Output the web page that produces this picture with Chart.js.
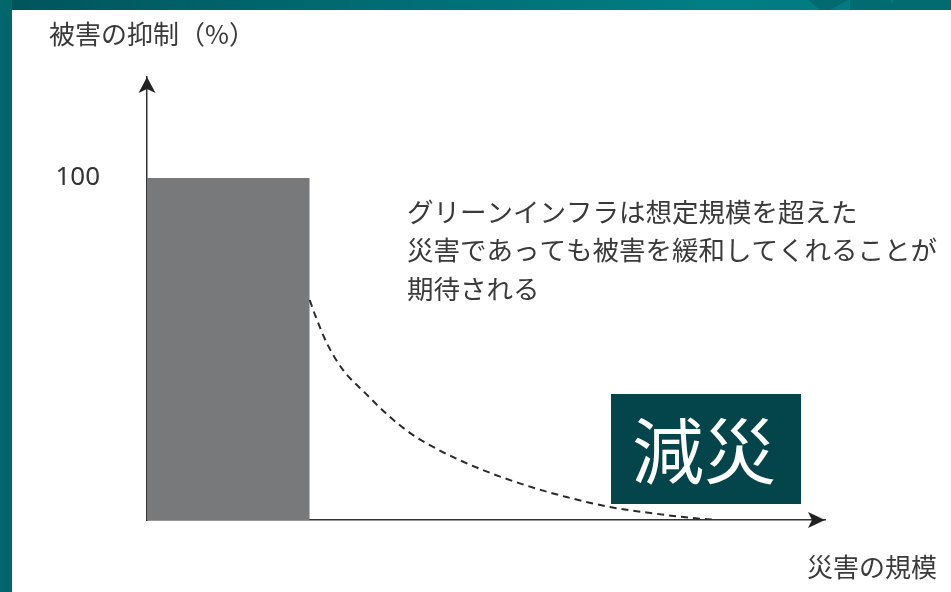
<!DOCTYPE html>
<html>
<head>
<meta charset="utf-8">
<script src="https://cdn.jsdelivr.net/npm/chart.js@4.4.1/dist/chart.umd.min.js"></script>
<style>
  html, body { margin: 0; padding: 0; width: 951px; height: 592px; overflow: hidden; }
  body { position: relative; background: linear-gradient(90deg, #00545c 0%, #006f76 45%, #007e84 75%, #00797f 100%); }
  .strip { position: absolute; left: 0; top: 0; width: 12px; height: 592px; background: #00666c; }
  .deco1 { position: absolute; top: 0; left: 808px; width: 40px; height: 10px; background: #006a6f; clip-path: polygon(0 0, 100% 0, 55% 100%, 30% 100%); }
  .deco2 { position: absolute; top: 0; left: 850px; width: 101px; height: 10px; background: #006b70; clip-path: polygon(0 0, 40% 0, 45% 100%, 0 100%); }
  .deco3 { position: absolute; top: 0; left: 893px; width: 58px; height: 10px; background: #006b70; }
  #wrap { position: absolute; left: 12px; top: 10px; width: 939px; height: 582px; background: #fff; }
</style>
</head>
<body>
<div class="strip"></div>
<div class="deco1"></div>
<div class="deco2"></div>
<div class="deco3"></div>
<div id="wrap"><canvas id="chart" width="939" height="582"></canvas></div>
<script>
// 被害の抑制 (%) vs 災害の規模
var barX = [0, 24];
var barY = [100, 100];

var curveX = [24, 24.8, 26.5, 28.9, 32.2, 35.5, 39.2, 43.2, 48.8, 55.3, 61.9, 68.3, 75.2, 82, 84];
var curveY = [64.3, 59.9, 51.8, 43.9, 37.1, 30.7, 24.9, 20.3, 15.2, 10.5, 6.7, 3.8, 1.8, 0.3, 0.1];

var yTicks = [100];

var yTitle = '被害の抑制（%）';
var xTitle = '災害の規模';
var note = ['グリーンインフラは想定規模を超えた', '災害であっても被害を緩和してくれることが', '期待される'];
var badge = '減災';

var jp = '"Noto Sans CJK JP", "Noto Sans", sans-serif';

function toPoints(xs, ys) {
	return xs.map(function (x, i) { return {x: x, y: ys[i]}; });
}

var extras = {
	id: 'extras',
	afterDraw: function (chart) {
		var ctx = chart.ctx;
		var a = chart.chartArea;
		ctx.save();

		// arrow heads on the axes
		ctx.fillStyle = '#222';
		ctx.beginPath();
		ctx.moveTo(a.left, a.top);
		ctx.lineTo(a.left + 8.5, a.top + 16);
		ctx.lineTo(a.left, a.top + 12);
		ctx.lineTo(a.left - 8.5, a.top + 16);
		ctx.closePath();
		ctx.fill();

		ctx.beginPath();
		ctx.moveTo(a.right, a.bottom);
		ctx.lineTo(a.right - 17, a.bottom - 8);
		ctx.lineTo(a.right - 13, a.bottom);
		ctx.lineTo(a.right - 17, a.bottom + 8);
		ctx.closePath();
		ctx.fill();

		// axis titles
		ctx.fillStyle = '#3a3a3a';
		ctx.font = '26px ' + jp;
		ctx.textBaseline = 'middle';
		ctx.textAlign = 'left';
		ctx.fillText(yTitle, 37, 24);
		ctx.fillText(xTitle, 795, 557);

		// note
		ctx.font = '26.5px ' + jp;
		ctx.fillText(note[0], 395, 202);
		ctx.fillText(note[1], 395, 240);
		ctx.fillText(note[2], 395, 279);

		// badge
		ctx.fillStyle = '#03454a';
		ctx.fillRect(599, 384, 190, 110);
		ctx.fillStyle = '#ffffff';
		ctx.font = '72px ' + jp;
		ctx.textAlign = 'center';
		ctx.fillText(badge, 692, 441);

		ctx.restore();
	}
};

new Chart('chart', {
	type: 'line',
	data: {
		datasets: [
			{
				data: toPoints(barX, barY),
				backgroundColor: '#77797b',
				borderWidth: 0,
				pointRadius: 0,
				fill: 'origin',
				order: 2
			},
			{
				data: toPoints(curveX, curveY),
				borderColor: '#2a2a2a',
				borderWidth: 2,
				borderDash: [7, 5],
				pointRadius: 0,
				fill: false,
				cubicInterpolationMode: 'monotone',
				order: 1
			}
		]
	},
	plugins: [extras],
	options: {
		responsive: false,
		animation: false,
		layout: { padding: { top: 67, right: 126, left: 0, bottom: 0 } },
		plugins: {
			legend: { display: false },
			tooltip: { enabled: false }
		},
		scales: {
			x: {
				type: 'linear',
				min: 0,
				max: 100,
				ticks: { display: false },
				grid: { display: false, drawTicks: false },
				border: { display: true, color: '#333', width: 1.5 },
				afterFit: function (s) { s.height = 72; }
			},
			y: {
				type: 'linear',
				min: 0,
				max: 129.5,
				afterBuildTicks: function (s) {
					s.ticks = yTicks.map(function (v) { return {value: v}; });
				},
				ticks: {
					padding: 47,
					color: '#333',
					font: { family: 'Noto Sans', size: 26 }
				},
				grid: { display: false, drawTicks: false },
				border: { display: true, color: '#333', width: 1.5 },
				afterFit: function (s) { s.width = 135; }
			}
		}
	}
});
</script>
</body>
</html>
